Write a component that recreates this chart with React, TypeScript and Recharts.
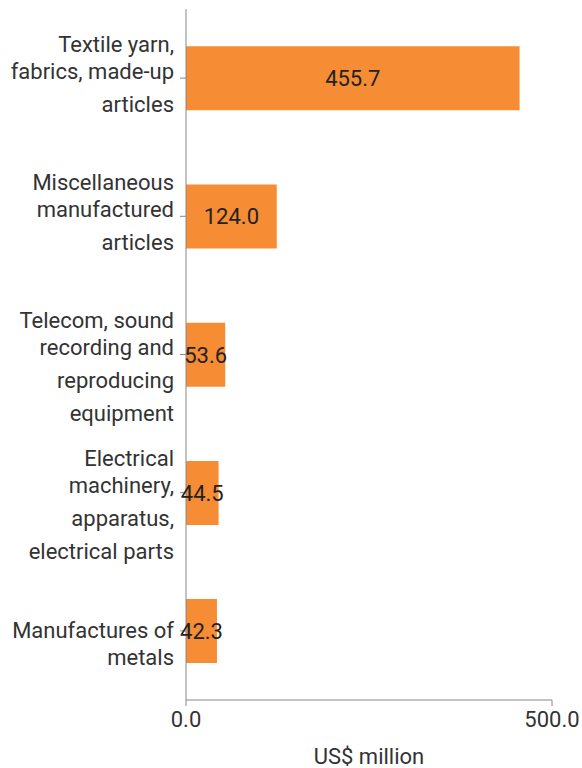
import React from 'react';
import { BarChart, Bar, XAxis, YAxis, LabelList } from 'recharts';

const categories = [
  'Textile yarn, fabrics, made-up articles',
  'Miscellaneous manufactured articles',
  'Telecom, sound recording and reproducing equipment',
  'Electrical machinery, apparatus, electrical parts',
  'Manufactures of metals',
];
const categoryLines = [
  ['Textile yarn,', 'fabrics, made-up', 'articles'],
  ['Miscellaneous', 'manufactured', 'articles'],
  ['Telecom, sound', 'recording and', 'reproducing', 'equipment'],
  ['Electrical', 'machinery,', 'apparatus,', 'electrical parts'],
  ['Manufactures of', 'metals'],
];
const values = [455.7, 124.0, 53.6, 44.5, 42.3];
const xTicks = [0, 500];

const data = categories.map((name, i) => ({ name, value: values[i], lines: categoryLines[i] }));

const FONT = 'Roboto, "Noto Sans", sans-serif';
const TEXT = '#333333';
const FS = 22;

// wrapped category label, lines stacked around the tick
const CategoryTick = (props: any) => {
  const { x, y, payload } = props;
  const idx = categories.indexOf(payload.value);
  const lines = idx >= 0 ? categoryLines[idx] : [payload.value];
  const start = lines.length > 2 ? -34 : 0;
  return (
    <text x={x - 4} y={y} textAnchor="end" fill={TEXT} fontSize={FS} fontFamily={FONT}>
      {lines.map((line: string, i: number) => {
        const off = start + (i >= 1 ? 27 : 0) + (i >= 2 ? 33 * (i - 1) : 0);
        return (
          <tspan key={i} x={x - 4} y={y + off} dominantBaseline="central">
            {line}
          </tspan>
        );
      })}
    </text>
  );
};

export default function App() {
  return (
    <div style={{ position: 'absolute', left: 0, top: 0, background: '#fff' }}>
      <BarChart
        width={582}
        height={768}
        data={data}
        layout="vertical"
        margin={{ top: 9, right: 30, left: 0, bottom: 0 }}
        barCategoryGap="27%"
      >
        <XAxis
          type="number"
          domain={[0, 500]}
          ticks={xTicks}
          tickFormatter={(v: number) => v.toFixed(1)}
          height={68}
          stroke="#888888"
          tickMargin={5}
          tick={{ fill: TEXT, fontSize: FS, fontFamily: FONT }}
          label={{ value: 'US$ million', position: 'insideBottom', offset: 4, fill: TEXT, fontSize: FS, fontFamily: FONT }}
        />
        <YAxis
          type="category"
          dataKey="name"
          width={186}
          stroke="#888888"
          tick={<CategoryTick />}
          interval={0}
        />
        <Bar dataKey="value" fill="#f68c33" isAnimationActive={false}>
          <LabelList
            dataKey="value"
            position="center"
            formatter={(v: number) => v.toFixed(1)}
            fill="#222222"
            fontSize={FS}
            fontFamily={FONT}
          />
        </Bar>
      </BarChart>
    </div>
  );
}
